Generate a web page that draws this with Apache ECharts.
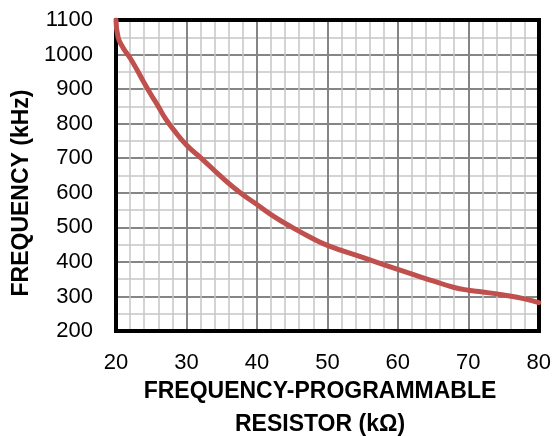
<!DOCTYPE html>
<html>
<head>
<meta charset="utf-8">
<script src="https://cdn.jsdelivr.net/npm/echarts@6/dist/echarts.min.js"></script>
<style>
  html, body { margin: 0; padding: 0; background: #fff; }
  #chart { width: 554px; height: 436px; }
</style>
</head>
<body>
<div id="chart"></div>
<script>
// Programming resistor (kΩ) vs. switching frequency (kHz)
const resistanceK = [20, 20.3, 21, 22, 23, 24, 25, 26, 27, 28, 30, 32, 35, 37.5, 40, 42.5, 45, 47.5, 50, 55, 60, 65, 68, 70, 72, 75, 78, 80];
const frequencyKHz = [1100, 1050, 1020, 990, 955, 918, 883, 850, 815, 787, 738, 702, 645, 602, 566, 530, 500, 472, 448, 413, 378, 345, 326, 318, 313, 304, 293, 282];

const xTicks = { min: 20, max: 80, step: 10 };
const yTicks = { min: 200, max: 1100, step: 100 };

const xTitleLines = ['FREQUENCY-PROGRAMMABLE', 'RESISTOR (kΩ)'];
const yTitle = 'FREQUENCY (kHz)';

const curve = resistanceK.map((r, i) => [r, frequencyKHz[i]]);

const FONT = '"Liberation Sans", Arial, sans-serif';
const frameLine = { show: true, onZero: false, lineStyle: { color: '#000', width: 4, cap: 'square' } };
const majorGrid = { show: true, lineStyle: { color: '#858585', width: 2 } };
const minorGrid = { show: true, lineStyle: { color: '#c6c6c6', width: 1.5 } };

const chart = echarts.init(document.getElementById('chart'), null, { renderer: 'canvas' });
chart.setOption({
  animation: false,
  backgroundColor: '#fff',
  grid: { left: 116, right: 12, top: 20, bottom: 105 },
  xAxis: [
    {
      type: 'value', min: xTicks.min, max: xTicks.max, interval: xTicks.step,
      axisLine: frameLine,
      axisTick: { show: false },
      minorTick: { show: false, splitNumber: 5 },
      splitLine: majorGrid,
      minorSplitLine: minorGrid,
      axisLabel: { color: '#000', fontSize: 22, fontFamily: FONT, margin: 21, formatter: v => String(v) }
    },
    {
      type: 'value', position: 'top', min: xTicks.min, max: xTicks.max, interval: xTicks.step,
      axisLine: frameLine, axisTick: { show: false }, axisLabel: { show: false }, splitLine: { show: false }
    }
  ],
  yAxis: [
    {
      type: 'value', min: yTicks.min, max: yTicks.max, interval: yTicks.step,
      axisLine: frameLine,
      axisTick: { show: false },
      minorTick: { show: false, splitNumber: 2 },
      splitLine: majorGrid,
      minorSplitLine: minorGrid,
      axisLabel: { color: '#000', fontSize: 22, fontFamily: FONT, margin: 23, formatter: v => String(v) }
    },
    {
      type: 'value', position: 'right', min: yTicks.min, max: yTicks.max, interval: yTicks.step,
      axisLine: frameLine, axisTick: { show: false }, axisLabel: { show: false }, splitLine: { show: false }
    }
  ],
  series: [
    {
      type: 'line',
      data: curve,
      smooth: 0.5,
      showSymbol: false,
      z: 1,
      lineStyle: { color: '#c0504d', width: 5, cap: 'round', join: 'round' }
    }
  ],
  graphic: [
    {
      type: 'text', x: 320, y: 392,
      style: {
        text: xTitleLines[0], fill: '#000',
        font: 'bold 23px ' + FONT, textAlign: 'center', textVerticalAlign: 'middle'
      }
    },
    {
      type: 'text', x: 320, y: 425,
      style: {
        text: xTitleLines[1], fill: '#000',
        font: 'bold 23px ' + FONT, textAlign: 'center', textVerticalAlign: 'middle'
      }
    },
    {
      type: 'text', x: 22, y: 193, rotation: Math.PI / 2,
      style: {
        text: yTitle, fill: '#000', font: 'bold 23px ' + FONT,
        textAlign: 'center', textVerticalAlign: 'middle'
      }
    }
  ]
});
</script>
</body>
</html>
